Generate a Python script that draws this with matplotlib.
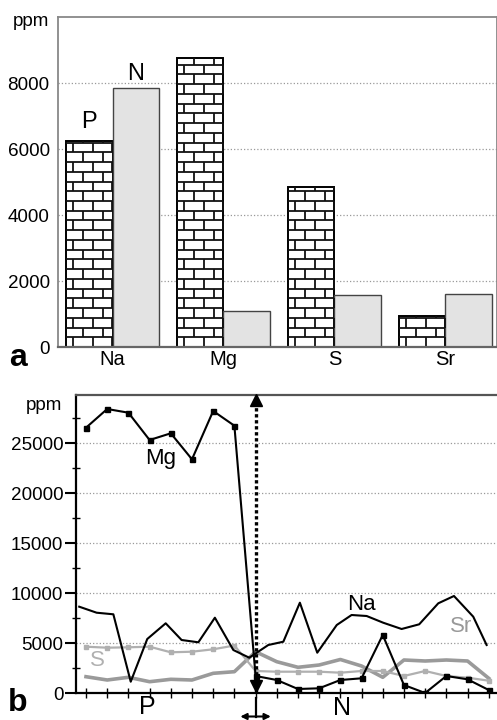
import matplotlib
matplotlib.use("Agg")
import matplotlib.pyplot as plt
from matplotlib.collections import LineCollection
import numpy as np

plt.rcParams['font.family'] = ['Liberation Sans', 'DejaVu Sans']

# --- panel a: mean concentrations ---
elements = ['Na', 'Mg', 'S', 'Sr']
p_vals = [6230, 8770, 4860, 930]
n_vals = [7840, 1100, 1590, 1620]

# --- panel b: profile ---
mg_vals = [26530, 28400, 28030, 25300, 25970, 23370, 28200, 26730, 1700, 1300,
           400, 470, 1300, 1470, 5800, 800, 0, 1700, 1370, 300]
s_vals = [4630, 4530, 4570, 4630, 4070, 4130, 4370, 4750, 2200, 2130,
          2130, 2130, 2030, 2200, 2200, 1700, 2200, 1700, 1530, 1230]
sr_vals = [1630, 1300, 1570, 1130, 1370, 1300, 1970, 2130, 4130, 3130,
           2570, 2800, 3350, 2700, 1570, 3300, 3200, 3300, 3200, 1470]
na_x = [-0.32, 0.50, 1.29, 2.11, 2.89, 3.76, 4.51, 5.30, 6.08, 6.95, 7.70, 8.60, 9.31,
        10.09, 10.91, 11.83, 12.53, 13.24, 14.02, 14.89, 15.72, 16.62, 17.36, 18.27, 18.90]
na_vals = [8630, 8030, 7870, 1130, 5400, 6970, 5300, 5070, 7530, 4300, 3530, 4800, 5130,
           9030, 4030, 6800, 7800, 7700, 7030, 6400, 6870, 8970, 9700, 7630, 4800]
boundary = 8

W, H = 497, 720
fig = plt.figure(figsize=(W / 100, H / 100), dpi=100)


def bricks(ax, bar, row_h, brick_w):
    # brick hatch clipped to the bar
    x0, w, h = bar.get_x(), bar.get_width(), bar.get_height()
    segs = []
    n_rows = int(np.ceil(h / row_h))
    for k in range(n_rows):
        y0 = k * row_h
        y1 = min(y0 + row_h, h)
        if k > 0:
            segs.append([(x0, y0), (x0 + w, y0)])
        xs = x0 + (0.4 if k % 2 == 0 else 0.9) * brick_w
        while xs < x0 + w:
            segs.append([(xs, y0), (xs, y1)])
            xs += brick_w
    lc = LineCollection(segs, colors='#111111', linewidths=1.3)
    lc.set_clip_path(bar)
    ax.add_collection(lc)


# ---------------- panel a ----------------
axa = fig.add_axes([58 / W, 1 - 347 / H, 439 / W, 330 / H])
x = np.arange(len(elements))
bw = 0.423
bars_p = axa.bar(x - bw / 2, p_vals, bw, color='white', edgecolor='black', linewidth=1.4, zorder=2)
bars_n = axa.bar(x + bw / 2, n_vals, bw, color='#e3e3e3', edgecolor='#444444', linewidth=1.0, zorder=2)
for b in bars_p:
    bricks(axa, b, 295, 0.176)

axa.text(x[0] - bw / 2, p_vals[0] + 250, 'P', ha='center', va='bottom', fontsize=17)
axa.text(x[0] + bw / 2, n_vals[0] + 100, 'N', ha='center', va='bottom', fontsize=17)

axa.set_xlim(-0.491, 3.464)
axa.set_ylim(0, 10000)
axa.set_yticks([0, 2000, 4000, 6000, 8000])
axa.set_xticks(x)
axa.set_xticklabels(elements, fontsize=14.5)
axa.tick_params(axis='both', length=0)
axa.tick_params(axis='y', pad=6, labelsize=13.6)
axa.tick_params(axis='x', pad=2)
axa.yaxis.grid(True, linestyle=':', color='#999999', linewidth=0.9)
axa.set_axisbelow(True)
for side in ['left', 'top', 'right']:
    axa.spines[side].set_color('#888888')
    axa.spines[side].set_linewidth(1.3)
axa.spines['bottom'].set_color('#666666')
axa.spines['bottom'].set_linewidth(1.6)

fig.text(31 / W, 1 - 21 / H, 'ppm', ha='center', va='center', fontsize=13.5)
fig.text(18 / W, 1 - 358 / H, 'a', ha='center', va='center', fontsize=23, fontweight='bold')

# ---------------- panel b ----------------
axb = fig.add_axes([76 / W, 1 - 693 / H, 421 / W, 298 / H])
idx = np.arange(len(mg_vals))
axb.plot(idx, sr_vals, color='#9a9a9a', linewidth=2.6, zorder=3)
axb.plot(idx, s_vals, color='#b0b0b0', linewidth=1.6, marker='s', markersize=3.2, zorder=3)
axb.plot(na_x, na_vals, color='black', linewidth=1.5, zorder=4)
axb.plot(idx, mg_vals, color='black', linewidth=1.5, marker='s', markersize=3.6, zorder=5)

# boundary between P and N
axb.plot([boundary, boundary], [0, 29300], color='black', linestyle=(0, (1, 0.8)), linewidth=2.4, zorder=6)
axb.plot([boundary], [29300], marker='^', color='black', markersize=8, zorder=6, clip_on=False)
axb.plot([boundary], [700], marker='v', color='black', markersize=8, zorder=6)
axb.plot([boundary, boundary], [-500, -2350], color='black', linewidth=1.6, clip_on=False)
axb.annotate('', xy=(boundary - 0.72, -2350), xytext=(boundary + 0.72, -2350),
             arrowprops=dict(arrowstyle='<|-|>', color='black', lw=1.5, mutation_scale=9,
                             shrinkA=0, shrinkB=0),
             annotation_clip=False)

axb.text(3.5, 23500, 'Mg', ha='center', va='center', fontsize=16)
axb.text(13.0, 8900, 'Na', ha='center', va='center', fontsize=16)
axb.text(0.52, 3300, 'S', ha='center', va='center', fontsize=16, color='#b0b0b0')
axb.text(17.7, 6600, 'Sr', ha='center', va='center', fontsize=16, color='#999999')
axb.text(2.9, -1400, 'P', ha='center', va='center', fontsize=18)
axb.text(12.1, -1500, 'N', ha='center', va='center', fontsize=18)

axb.set_xlim(-0.472, 19.39)
axb.set_ylim(0, 29800)
axb.set_xticks(idx)
axb.set_xticklabels([])
axb.set_yticks([0, 5000, 10000, 15000, 20000, 25000])
axb.set_yticks(np.arange(2500, 29000, 5000), minor=True)
axb.tick_params(axis='y', which='major', direction='out', length=8, width=1.5, labelsize=13.6, pad=1)
axb.tick_params(axis='y', which='minor', direction='inout', length=6, width=1.0)
axb.tick_params(axis='x', direction='inout', length=7, width=1.0)
axb.yaxis.grid(True, which='major', linestyle=':', color='#999999', linewidth=0.9)
axb.set_axisbelow(True)
axb.spines['left'].set_linewidth(1.6)
axb.spines['bottom'].set_linewidth(1.6)
axb.spines['top'].set_linewidth(1.6)
axb.spines['top'].set_color('#555555')
axb.spines['right'].set_visible(False)

fig.text(44 / W, 1 - 406 / H, 'ppm', ha='center', va='center', fontsize=13.5)
fig.text(18 / W, 1 - 703 / H, 'b', ha='center', va='center', fontsize=23, fontweight='bold')

fig.savefig('out.png', dpi=100)
